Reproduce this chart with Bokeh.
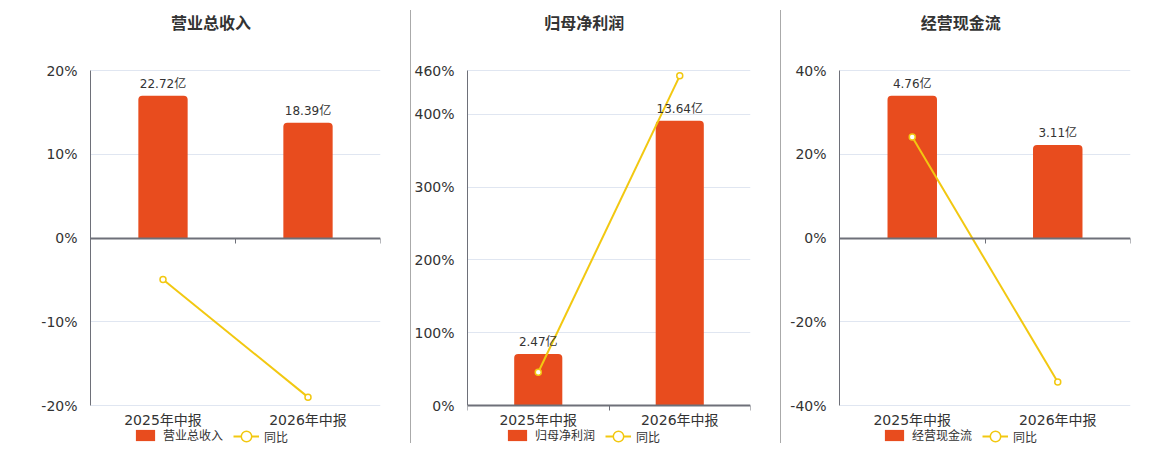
from bokeh.plotting import figure
from bokeh.models import (Range1d, FactorRange, LinearAxis, FixedTicker, CustomJSTickFormatter,
                          ColumnDataSource, LabelSet, Label, Legend, LegendItem, Spacer)
from bokeh.layouts import row
from bokeh.embed import file_html
from bokeh.resources import INLINE
from bokeh.core.properties import value

# ---------------- data ----------------
categories = ["2025年中报", "2026年中报"]

titles = ["营业总收入", "归母净利润", "经营现金流"]

revenue = [22.72, 18.39]
revenue_labels = ["22.72亿", "18.39亿"]
revenue_yoy = [-4.95, -19.0]
revenue_ticks = [-20, -10, 0, 10, 20]

profit = [2.47, 13.64]
profit_labels = ["2.47亿", "13.64亿"]
profit_yoy = [45.7, 452.7]
profit_ticks = [0, 100, 200, 300, 400, 460]

cashflow = [4.76, 3.11]
cashflow_labels = ["4.76亿", "3.11亿"]
cashflow_yoy = [24.1, -34.4]
cashflow_ticks = [-40, -20, 0, 20, 40]

yoy_name = "同比"

# ---------------- style / layout ----------------
FONT = "DejaVu Sans, Noto Sans CJK SC"
RED = "#E84C1E"
YEL = "#F2C811"
AX = "#6E7079"
GRID = "#E0E6F1"
TXT = "#333333"
SEP = "#AAAAAA"

H = 448          # figure height
PLOT_TOP = 70    # pixel row of the top tick
PLOT_BOT = 405   # pixel row of the bottom tick


def make_panel(title, bars, labels, yoy, ticks, width, left, right,
               title_x, leg1_x, leg2_x):
    ymin, ymax = ticks[0], ticks[-1]
    unit = (ymax - ymin) / (PLOT_BOT - PLOT_TOP)
    lo = ymin - (H - PLOT_BOT) * unit
    hi = ymax + PLOT_TOP * unit

    p = figure(width=width, height=H,
               x_range=FactorRange(factors=categories),
               y_range=Range1d(lo, hi),
               output_backend="svg", toolbar_location=None,
               min_border_left=left, min_border_right=right,
               min_border_top=0, min_border_bottom=0)
    p.outline_line_color = None
    p.background_fill_color = "white"
    p.border_fill_color = "white"

    k = (max(bars) / 0.85) / ymax
    p.extra_y_ranges = {"bar": Range1d(lo * k, hi * k)}

    src = ColumnDataSource(dict(cat=categories, bar=bars, lab=labels, yoy=yoy))

    vb = p.vbar(x="cat", top="bar", bottom=0, width=0.34, y_range_name="bar",
                source=src, fill_color=RED, line_color=None,
                border_radius=(4, 4, 0, 0))

    lbl = LabelSet(x="cat", y="bar", text="lab", y_range_name="bar", source=src,
                   y_offset=5, text_align="center", text_baseline="bottom",
                   text_font=value(FONT), text_font_size="12px", text_color=TXT)
    p.add_layout(lbl)

    ln = p.line(x="cat", y="yoy", source=src, line_color=YEL, line_width=2)
    sc = p.scatter(x="cat", y="yoy", source=src, marker="circle", size=6,
                   fill_color="white", line_color=YEL, line_width=1.5)

    # y axis
    p.yaxis.ticker = FixedTicker(ticks=ticks)
    p.yaxis.bounds = (ymin, ymax)
    p.yaxis.formatter = CustomJSTickFormatter(code="return tick.toFixed(0) + '%';")
    p.yaxis.axis_line_color = AX
    p.yaxis.major_tick_line_color = None
    p.yaxis.minor_tick_line_color = None
    p.yaxis.major_label_text_font = FONT
    p.yaxis.major_label_text_font_size = "14px"
    p.yaxis.major_label_text_color = TXT
    p.yaxis.major_label_standoff = 7
    p.ygrid.grid_line_color = GRID
    p.xgrid.grid_line_color = None

    # category labels under the bottom tick
    p.xaxis.fixed_location = ymin
    p.xaxis.axis_line_color = None
    p.xaxis.major_tick_line_color = None
    p.xaxis.major_tick_out = 0
    p.xaxis.major_tick_in = 0
    p.xaxis.minor_tick_line_color = None
    p.xaxis.major_label_text_font = FONT
    p.xaxis.major_label_text_font_size = "14px"
    p.xaxis.major_label_text_color = TXT
    p.xaxis.major_label_standoff = 6

    # zero line with boundary ticks
    zero = LinearAxis(ticker=FixedTicker(ticks=list(range(len(categories) + 1))),
                      formatter=CustomJSTickFormatter(code="return '';"),
                      fixed_location=0,
                      axis_line_color=AX, axis_line_width=2,
                      major_tick_line_color=AX, major_tick_out=5, major_tick_in=0,
                      minor_tick_line_color=None)
    p.add_layout(zero, "below")

    # title
    t = Label(x=title_x, y=H - 23, x_units="screen", y_units="screen", text=title,
              text_align="center", text_baseline="middle",
              text_font=FONT, text_font_size="16px", text_font_style="bold",
              text_color=TXT)
    p.add_layout(t)

    # legends
    leg1 = Legend(items=[LegendItem(label=title, renderers=[vb])],
                  location=(leg1_x, H - 443), orientation="horizontal",
                  glyph_width=24, glyph_height=14, label_height=14, label_standoff=6,
                  padding=0, margin=0, border_line_color=None, background_fill_alpha=0,
                  label_text_font=FONT, label_text_font_size="12px", label_text_color=TXT)
    leg2 = Legend(items=[LegendItem(label=yoy_name, renderers=[ln, sc])],
                  location=(leg2_x, H - 449), orientation="horizontal",
                  glyph_width=26, glyph_height=26, label_height=14, label_standoff=5,
                  padding=0, margin=0, border_line_color=None, background_fill_alpha=0,
                  label_text_font=FONT, label_text_font_size="12px", label_text_color=TXT)
    p.add_layout(leg1)
    p.add_layout(leg2)
    return p


def separator():
    return Spacer(width=1, height=433, margin=(10, 0, 0, 0),
                  styles={"background-color": SEP})


p1 = make_panel(titles[0], revenue, revenue_labels, revenue_yoy, revenue_ticks,
                410, 90, 30, 120.5, 43, 143)
p2 = make_panel(titles[1], profit, profit_labels, profit_yoy, profit_ticks,
                369, 53, 30, 116.7, 38, 138)
p3 = make_panel(titles[2], cashflow, cashflow_labels, cashflow_yoy, cashflow_ticks,
                377, 58, 28, 121.2, 43, 143)

layout = row(p1, separator(), p2, separator(), p3)
open("out.html", "w").write(file_html(layout, INLINE))
